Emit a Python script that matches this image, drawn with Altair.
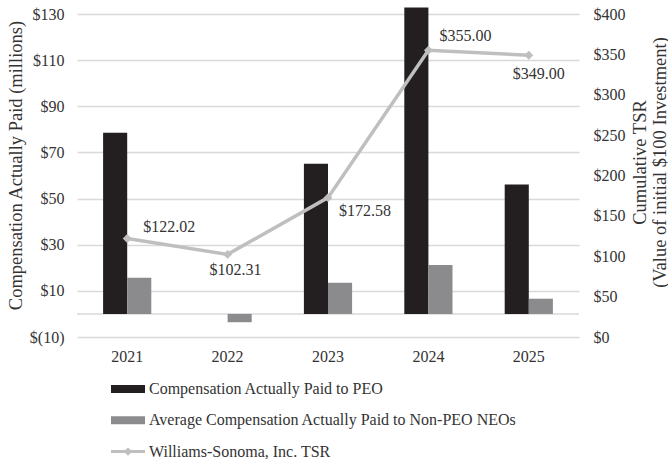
import altair as alt
import pandas as pd

# Fiscal years and values ($ millions for pay, $ for TSR)
years = ["2021", "2022", "2023", "2024", "2025"]
cap_peo = [78.5, None, 65.1, 132.8, 56.1]
cap_neo = [15.7, -3.6, 13.5, 21.2, 6.6]
tsr = [122.02, 102.31, 172.58, 355.00, 349.00]

series_names = [
    "Compensation Actually Paid to PEO",
    "Average Compensation Actually Paid to Non-PEO NEOs",
    "Williams-Sonoma, Inc. TSR",
]

FONT = "Liberation Serif"
TEXT = "#333333"
BLACK = "#231f20"
GRAY = "#8b8b8d"
LIGHT = "#bfbfbf"
GRID = "#d9d9d9"

bars_df = pd.DataFrame({
    "year": years * 2,
    "series": [series_names[0]] * 5 + [series_names[1]] * 5,
    "value": cap_peo + cap_neo,
})
tsr_df = pd.DataFrame({"year": years, "tsr": tsr})
legend_df = pd.DataFrame({"series": series_names})
zero_df = pd.DataFrame({"value": [0]})

x_enc = alt.X(
    "year:N", sort=years, title=None,
    scale=alt.Scale(paddingInner=0.52, paddingOuter=0.26),
    axis=alt.Axis(labelFont=FONT, labelFontSize=16, labelColor=TEXT, labelAngle=0,
                  labelPadding=11, domain=False, ticks=False, grid=False),
)
x_plain = alt.X("year:N", sort=years)

left_scale = alt.Scale(domain=[-10, 130], nice=False, zero=False)
right_scale = alt.Scale(domain=[0, 400], nice=False)

color_scale = alt.Scale(domain=series_names, range=[BLACK, GRAY, LIGHT])

# swatch shapes for the legend: two wide blocks and a line with a diamond
rect_path = "M-1.7,-0.4H1.7V0.4H-1.7Z"
line_path = "M-1.7,-0.15H1.7V0.15H-1.7Z M0,-0.42L0.42,0L0,0.42L-0.42,0Z"
shape_scale = alt.Scale(domain=series_names, range=[rect_path, rect_path, line_path])

legend_cfg = dict(
    orient="none", legendX=41, legendY=365, direction="vertical", title=None,
    labelFont=FONT, labelFontSize=16, labelColor=TEXT, labelOffset=11,
    symbolSize=400, symbolStrokeWidth=0, symbolOpacity=1, rowPadding=13.3,
    padding=0, labelLimit=500,
)

left_axis = alt.Axis(
    values=[-10, 10, 30, 50, 70, 90, 110, 130],
    labelExpr="datum.value < 0 ? '$(' + abs(datum.value) + ')' : '$' + datum.value",
    labelFont=FONT, labelFontSize=16, labelColor=TEXT, labelPadding=13,
    domain=False, ticks=False, grid=True, gridColor=GRID, gridWidth=1.5,
    titleFont=FONT, titleFontSize=18.5, titleFontWeight="normal", titleColor=TEXT,
    titleAngle=270, titleX=-62, titleY=151, titleAlign="center",
    titleBaseline="middle",
)

right_axis = alt.Axis(
    orient="right",
    values=[0, 50, 100, 150, 200, 250, 300, 350, 400],
    labelExpr="'$' + datum.value",
    labelFont=FONT, labelFontSize=16, labelColor=TEXT, labelPadding=14,
    domain=False, ticks=False, grid=False,
    titleFont=FONT, titleFontSize=18.5, titleFontWeight="normal", titleColor=TEXT,
    titleAngle=270, titleX=60, titleY=148, titleAlign="center",
    titleBaseline="middle", titleLineHeight=20,
)

bars = alt.Chart(bars_df).mark_bar().encode(
    x=x_enc,
    xOffset=alt.XOffset("series:N", sort=series_names[:2]),
    y=alt.Y("value:Q", scale=left_scale,
            title="Compensation Actually Paid (millions)", axis=left_axis),
    fill=alt.Fill("series:N",
                  scale=alt.Scale(domain=series_names[:2], range=[BLACK, GRAY]),
                  legend=None),
)

zero_line = alt.Chart(zero_df).mark_rule(color=GRID, strokeWidth=1.5).encode(
    y=alt.Y("value:Q", scale=left_scale,
            title="Compensation Actually Paid (millions)", axis=left_axis)
)

tsr_title = ["Cumulative TSR", "(Value of initial $100 Investment)"]
tsr_y = alt.Y("tsr:Q", scale=right_scale, title=tsr_title, axis=right_axis)

line = alt.Chart(tsr_df).mark_line(color=LIGHT, strokeWidth=3.5).encode(
    x=x_plain, y=tsr_y,
)

points = alt.Chart(tsr_df).mark_point(
    shape="diamond", filled=True, color=LIGHT, size=80, opacity=1
).encode(x=x_plain, y=tsr_y)


def tsr_label(year, dx, dy):
    return alt.Chart(tsr_df).transform_filter(
        alt.datum.year == year
    ).mark_text(font=FONT, fontSize=16, color=TEXT, dx=dx, dy=dy).encode(
        x=x_plain, y=tsr_y,
        text=alt.Text("tsr:Q", format="$.2f"),
    )


labels = [
    tsr_label("2021", 42, -11),
    tsr_label("2022", 8, 16),
    tsr_label("2023", 37, 13),
    tsr_label("2024", 37, -14),
    tsr_label("2025", 10, 19),
]

# legend-only layer: its points have zero size, the legend shows the swatches
legend_layer = alt.Chart(legend_df).mark_point(filled=True, size=0).encode(
    color=alt.Color("series:N", scale=color_scale, legend=alt.Legend(**legend_cfg)),
    shape=alt.Shape("series:N", scale=shape_scale, legend=alt.Legend(**legend_cfg)),
)

left_layer = alt.layer(zero_line, bars)
right_layer = alt.layer(line, points, *labels)

chart = alt.layer(left_layer, right_layer, legend_layer).resolve_scale(
    y="independent"
).properties(
    width=502,
    height=323,
    background="white",
    autosize=alt.AutoSizeParams(type="none"),
    padding={"left": 77, "top": 14, "right": 89, "bottom": 122},
).configure_view(stroke=None)

chart.save("out.html", embed_options={"renderer": "svg", "actions": False})
